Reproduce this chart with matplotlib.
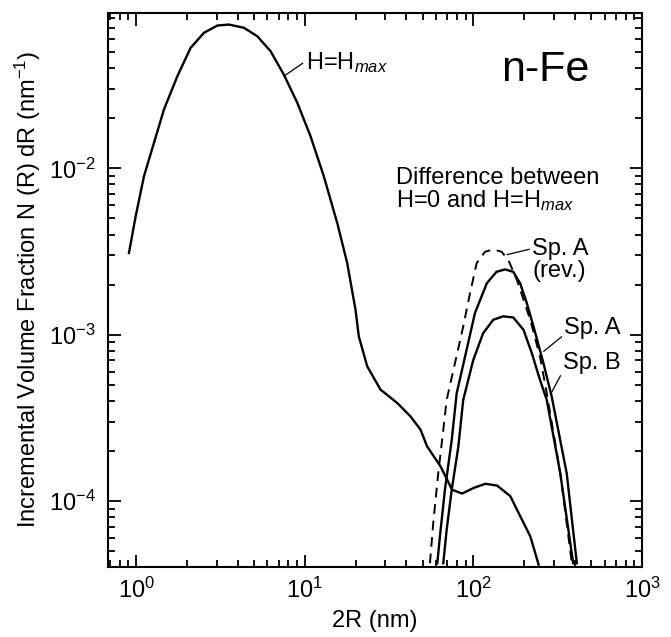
import matplotlib
matplotlib.use("Agg")
import matplotlib.pyplot as plt

plt.rcParams['font.family'] = ['Liberation Sans', 'DejaVu Sans']
plt.rcParams['mathtext.fontset'] = 'custom'
plt.rcParams['mathtext.rm'] = 'Liberation Sans'
plt.rcParams['mathtext.it'] = 'Liberation Sans:italic'

# H = Hmax distribution
hmax_x = [0.906, 0.993, 1.112, 1.275, 1.461, 1.754, 2.103, 2.522, 3.027, 3.546, 4.351, 5.224,
          6.265, 7.51, 9.02, 10.81, 12.96, 15.56, 17.83, 19.97, 20.89, 23.43, 28.09, 35.28,
          42.29, 48.5, 53.1, 63.7, 74.7, 85.6, 100.3, 117.6, 138, 165.4, 181, 198.4, 217.3,
          243.4]
hmax_y = [3.10e-3, 5.15e-3, 8.96e-3, 1.423e-2, 2.258e-2, 3.58e-2, 5.30e-2, 6.53e-2, 7.22e-2,
          7.32e-2, 7.00e-2, 6.23e-2, 5.06e-2, 3.66e-2, 2.48e-2, 1.56e-2, 8.96e-3, 4.70e-3,
          2.70e-3, 1.415e-3, 9.78e-4, 6.46e-4, 4.68e-4, 3.89e-4, 3.23e-4, 2.69e-4, 2.13e-4,
          1.62e-4, 1.17e-4, 1.11e-4, 1.20e-4, 1.27e-4, 1.24e-4, 1.07e-4, 8.88e-5, 7.38e-5,
          6.13e-5, 4.14e-5]

# Sp. A (rev.) difference, dashed
rev_x = [55.2, 57.7, 61.8, 66.2, 69.3, 77.6, 86.9, 95.3, 104.4, 117, 131, 147, 161, 181,
         217, 248, 272, 327, 383]
rev_y = [4.23e-5, 7.36e-5, 1.47e-4, 2.67e-4, 4.05e-4, 6.73e-4, 1.12e-3, 1.77e-3, 2.69e-3,
         3.15e-3, 3.26e-3, 3.15e-3, 2.81e-3, 2.13e-3, 1.23e-3, 7.38e-4, 4.45e-4, 1.47e-4, 4.23e-5]

# Sp. A difference
spa_x = [61.0, 63.2, 67.7, 74.3, 79.5, 89.1, 102, 120, 137, 154, 172, 189, 207, 227, 260,
         291, 357, 410]
spa_y = [4.23e-5, 6.1e-5, 1.17e-4, 2.33e-4, 4.45e-4, 7.38e-4, 1.35e-3, 2.04e-3, 2.39e-3,
         2.47e-3, 2.39e-3, 2.04e-3, 1.55e-3, 1.12e-3, 6.73e-4, 4.24e-4, 1.47e-4, 4.23e-5]

# Sp. B difference
spb_x = [66.2, 69.3, 74.3, 81.3, 86.9, 99.7, 114, 131, 150, 172, 198, 222, 248, 272, 327, 390]
spb_y = [4.23e-5, 6.7e-5, 1.17e-4, 2.12e-4, 4.05e-4, 7.05e-4, 1.02e-3, 1.23e-3, 1.29e-3,
         1.27e-3, 1.07e-3, 7.72e-4, 5.35e-4, 4.05e-4, 1.47e-4, 4.23e-5]

fig = plt.figure(figsize=(6.71, 6.37), dpi=100)
ax = fig.add_axes([0.161, 0.110, 0.796, 0.870])

lw = 1.7
ax.plot(hmax_x, hmax_y, color='black', lw=lw)
ax.plot(rev_x, rev_y, color='black', lw=1.4, dashes=(5, 3.5))
ax.plot(spa_x, spa_y, color='black', lw=lw)
ax.plot(spb_x, spb_y, color='black', lw=lw)

ax.set_xscale('log')
ax.set_yscale('log')
ax.set_xlim(0.681, 1000)
ax.set_ylim(4.02e-5, 0.0862)

ax.tick_params(which='both', direction='in', top=True, right=True, labelsize=17, width=1.3)
ax.tick_params(which='major', length=9, pad=9)
ax.tick_params(axis='x', which='major', pad=8)
ax.tick_params(which='minor', length=5)
for s in ax.spines.values():
    s.set_linewidth(1.5)

ax.set_xlabel('2R (nm)', fontsize=17, labelpad=5)
ax.set_ylabel(r'Incremental Volume Fraction N (R) dR (nm$^{-1}$)', fontsize=17, labelpad=4)

line_kw = dict(arrowstyle='-', color='black', lw=0.9, shrinkA=0, shrinkB=0)

# annotations
ax.annotate(r'H=H$_{max}$', xy=(7.51, 3.58e-2), xytext=(10.1, 4.33e-2), fontsize=17,
            va='center', ha='left', arrowprops=dict(relpos=(0, 0.55), **line_kw))
ax.text(0.818, 0.897, 'n-Fe', transform=ax.transAxes, fontsize=31, ha='center', va='center')
ax.text(34.5, 7.44e-3, 'Difference between\nH=0 and H=H$_{max}$', fontsize=17,
        ha='left', va='center', linespacing=0.95)
ax.annotate('Sp. A\n(rev.)', xy=(158, 3.03e-3), xytext=(223, 2.83e-3), fontsize=17,
            ha='left', va='center', linespacing=1.0, multialignment='left',
            arrowprops=dict(relpos=(0, 0.75), **line_kw))
ax.annotate('Sp. A', xy=(260.6, 7.94e-4), xytext=(346, 1.10e-3), fontsize=17,
            ha='left', va='center', arrowprops=dict(relpos=(0, 0.2), **line_kw))
ax.annotate('Sp. B', xy=(286, 4.37e-4), xytext=(341, 6.79e-4), fontsize=17,
            ha='left', va='center', arrowprops=dict(relpos=(0, 0.15), **line_kw))

fig.savefig('out.png', dpi=100)
